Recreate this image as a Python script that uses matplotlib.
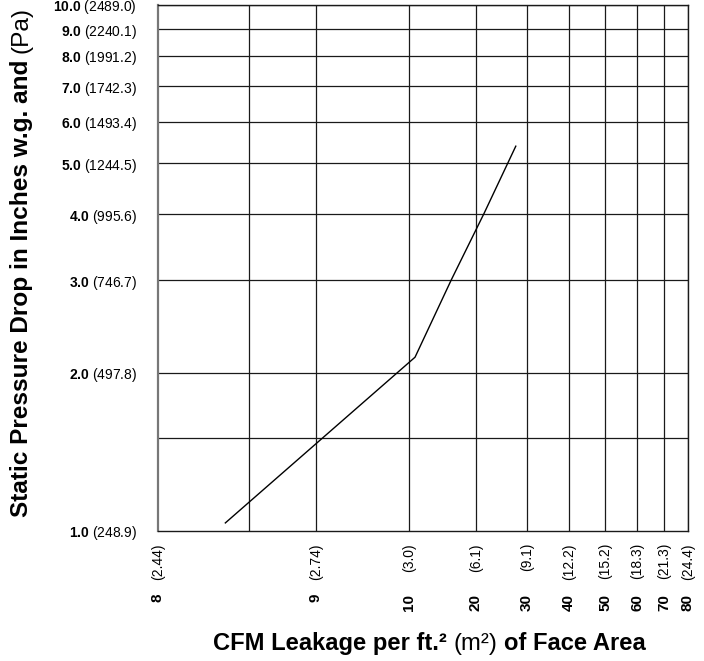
import numpy as np
import matplotlib
matplotlib.use("Agg")
import matplotlib.pyplot as plt

# ---------------- data ----------------
cfm = [8.37, 10.9, 16.3, 21.6, 27.8]
pressure = [1.036, 2.14, 3.0, 4.02, 5.39]

x_tick_vals = [8, 9, 10, 20, 30, 40, 50, 60, 70, 80]
x_tick_metric = ['(2.44)', '(2.74)', '(3.0)', '(6.1)', '(9.1)', '(12.2)',
                 '(15.2)', '(18.3)', '(21.3)', '(24.4)']
x_extra_grid = [8.5]

y_tick_vals = [1, 2, 3, 4, 5, 6, 7, 8, 9, 10]
y_tick_pa = ['(248.9)', '(497.8)', '(746.7)', '(995.6)', '(1244.5)',
             '(1493.4)', '(1742.3)', '(1991.2)', '(2240.1)', '(2489.0)']
y_extra_grid = [1.5]

x_title = [('CFM Leakage per ft.\u00b2', 'bold'), ('(m\u00b2)', 'normal'), ('of Face Area', 'bold')]
y_title = [('Static Pressure Drop in Inches w.g. and', 'bold'), ('(Pa)', 'normal')]

# ---------------- layout of the chart's non-uniform x axis ----------------
scale_vals = [8, 8.5, 9, 10, 20, 30, 40, 50, 60, 70, 80]
scale_pos = [0, 91, 158, 251, 318, 369, 411, 447, 479, 506, 530]

def fwd(v):
    return np.interp(v, scale_vals, scale_pos)

def inv(p):
    return np.interp(p, scale_pos, scale_vals)

plt.rcParams['font.family'] = ['Liberation Sans', 'DejaVu Sans']
plt.rcParams['mathtext.fontset'] = 'custom'
plt.rcParams['mathtext.rm'] = 'Liberation Sans'
plt.rcParams['mathtext.bf'] = 'Liberation Sans:bold'
plt.rcParams['mathtext.it'] = 'Liberation Sans:italic'

W, H = 704, 661
fig = plt.figure(figsize=(W / 100, H / 100), dpi=100)
ax = fig.add_axes([158 / W, 1 - 531 / H, 530 / W, 526 / H])

ax.set_xscale('function', functions=(fwd, inv))
ax.set_yscale('log')
ax.set_xlim(8, 80)
ax.set_ylim(1, 10)

# grid
grid_kw = dict(color='#1a1a1a', lw=0.9, zorder=1)
for v in x_extra_grid + x_tick_vals[1:]:
    ax.axvline(v, **grid_kw)
for v in y_extra_grid + y_tick_vals[1:]:
    ax.axhline(v, **grid_kw)

ax.plot(cfm, pressure, color='black', lw=1.0, zorder=3)

# spines
ax.spines['left'].set_color('#777777')
ax.spines['left'].set_linewidth(1.6)
for s in ['bottom', 'top', 'right']:
    ax.spines[s].set_color('#1a1a1a')
    ax.spines[s].set_linewidth(1.0)

# y tick labels
ax.yaxis.set_minor_locator(matplotlib.ticker.NullLocator())
ax.set_yticks(y_tick_vals)
ax.set_yticklabels([r'$\mathbf{%.1f}$ %s' % (v, p) for v, p in zip(y_tick_vals, y_tick_pa)],
                   fontsize=10)
ax.tick_params(axis='y', length=0, pad=15)

# x tick labels (two rows, rotated)
ax.set_xticks([])
ax.xaxis.set_minor_locator(matplotlib.ticker.NullLocator())
trans = ax.get_xaxis_transform()
for v, m in zip(x_tick_vals, x_tick_metric):
    ax.text(v, -12 / 526, m, rotation=90, ha='center', va='top',
            fontsize=10, transform=trans)
    ax.text(v, -63 / 526, str(v), rotation=90, ha='center', va='top',
            fontsize=11, fontweight='bold', transform=trans)

# axis titles built from pieces with mixed weights
renderer = fig.canvas.get_renderer()

def text_len(s, size, weight):
    t = fig.text(0, 0, s, fontsize=size, fontweight=weight)
    w = t.get_window_extent(renderer).width
    t.remove()
    return w

def space_len(size, weight):
    return text_len('x x', size, weight) - text_len('xx', size, weight)

def draw_pieces(x0, y0, pieces, size, vertical=False):
    pos = 0.0
    for i, (s, wgt) in enumerate(pieces):
        if i > 0:
            pos += space_len(size, wgt)
        if vertical:
            fig.text(x0 / W, (H - y0 + pos) / H, s, fontsize=size, fontweight=wgt,
                     rotation=90, rotation_mode='anchor', ha='left', va='baseline')
        else:
            fig.text((x0 + pos) / W, 1 - y0 / H, s, fontsize=size, fontweight=wgt,
                     ha='left', va='baseline')
        pos += text_len(s, size, wgt)

draw_pieces(213, 650, x_title, 17.1)
draw_pieces(28, 517, y_title, 17.6, vertical=True)

fig.savefig('out.png', dpi=100)
